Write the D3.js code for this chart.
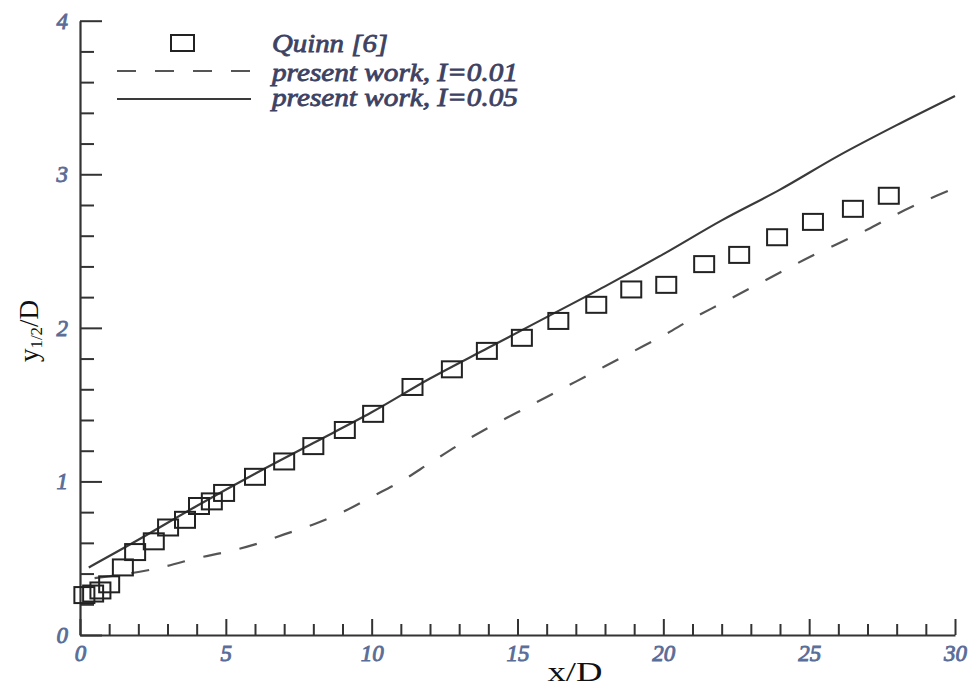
<!DOCTYPE html>
<html>
<head>
<meta charset="utf-8">
<script src="https://cdn.jsdelivr.net/npm/d3@7"></script>
<style>
  body { margin: 0; background: #fff; }
</style>
</head>
<body>
<div id="chart-area"></div>
<script>
// Quinn [6] measurements
const quinnX = [0.15, 0.45, 0.7, 1.0, 1.47, 1.89, 2.53, 3.02, 3.6, 4.08, 4.52, 4.94, 6.0, 7.0, 8.0, 9.08, 10.05, 11.4, 12.75, 13.95, 15.15, 16.4, 17.7, 18.9, 20.1, 21.4, 22.6, 23.9, 25.13, 26.5, 27.73];
const quinnY = [0.26, 0.27, 0.29, 0.33, 0.44, 0.54, 0.61, 0.70, 0.75, 0.84, 0.87, 0.925, 1.03, 1.13, 1.23, 1.335, 1.44, 1.615, 1.73, 1.85, 1.935, 2.045, 2.15, 2.25, 2.28, 2.415, 2.475, 2.59, 2.69, 2.775, 2.86];

// present work, I=0.01 (dashed)
const lowX = [0.5, 2, 3, 4, 5, 6, 7, 8, 9, 10, 11, 12, 13, 14, 15, 16, 17, 18, 19, 20, 21, 22, 23, 24, 25, 26, 27, 28, 29, 30];
const lowY = [0.37, 0.41, 0.45, 0.5, 0.54, 0.59, 0.655, 0.72, 0.8, 0.9, 1.0, 1.12, 1.24, 1.35, 1.45, 1.55, 1.65, 1.75, 1.85, 1.95, 2.06, 2.16, 2.26, 2.36, 2.46, 2.55, 2.64, 2.74, 2.83, 2.91];

// present work, I=0.05 (solid)
const highX = [0.3, 2, 4, 6, 8, 10, 12, 14, 16, 18, 20, 22, 24, 26, 28, 30];
const highY = [0.44, 0.62, 0.84, 1.05, 1.25, 1.45, 1.67, 1.87, 2.07, 2.27, 2.48, 2.7, 2.9, 3.12, 3.32, 3.51];

const xMajor = [0, 5, 10, 15, 20, 25, 30];
const xMinor = d3.range(0, 31, 1).filter(v => v % 5 !== 0);
const yMajor = [0, 1, 2, 3, 4];
const yMinor = d3.range(0, 20, 1).map(v => v / 5).filter((v, i) => i % 5 !== 0);

const legendLabels = ["Quinn [6]", "present work, I=0.01", "present work, I=0.05"];

const W = 976, H = 686;
const SERIF = "'Liberation Serif', 'Times New Roman', Times, serif";

const svg = d3.select("#chart-area").append("svg")
  .attr("width", W)
  .attr("height", H);

const xScale = d3.scaleLinear().domain([0, 30]).range([80, 955]);
const yScale = d3.scaleLinear().domain([0, 4]).range([635, 20.7]);

const axisColor = "#333";
const labelColor = "#5a6d98";

function styleAxis(g) {
  g.selectAll("line").attr("stroke", axisColor).attr("stroke-width", 2);
  g.select(".domain").attr("stroke", axisColor).attr("stroke-width", 2.2);
  g.selectAll("text")
    .attr("font-family", SERIF)
    .attr("font-style", "italic")
    .attr("font-size", 23)
    .attr("fill", labelColor)
    .attr("stroke", labelColor)
    .attr("stroke-width", 0.9);
}

// minor ticks first
svg.append("g")
  .attr("transform", "translate(0,635)")
  .call(d3.axisBottom(xScale).tickValues(xMinor).tickSizeInner(-11).tickSizeOuter(0).tickFormat(""))
  .call(g => { styleAxis(g); g.select(".domain").remove(); });

svg.append("g")
  .attr("transform", "translate(80,0)")
  .call(d3.axisLeft(yScale).tickValues(yMinor).tickSizeInner(-14).tickSizeOuter(0).tickFormat(""))
  .call(g => { styleAxis(g); g.select(".domain").remove(); });

// major ticks
svg.append("g")
  .attr("transform", "translate(0,635)")
  .call(d3.axisBottom(xScale).tickValues(xMajor).tickSizeInner(-16).tickSizeOuter(0).tickPadding(10).tickFormat(d3.format("d")))
  .call(styleAxis);

svg.append("g")
  .attr("transform", "translate(80,0)")
  .call(d3.axisLeft(yScale).tickValues(yMajor).tickSizeInner(-22).tickSizeOuter(0).tickPadding(12).tickFormat(d3.format("d")))
  .call(styleAxis);

// axis titles
svg.append("text")
  .attr("x", 575)
  .attr("y", 681)
  .attr("text-anchor", "middle")
  .attr("font-family", SERIF)
  .attr("font-size", 27)
  .attr("fill", "#111")
  .attr("textLength", 55)
  .attr("lengthAdjust", "spacingAndGlyphs")
  .text("x/D");

const yTitle = svg.append("text")
  .attr("transform", "translate(38,331) rotate(-90)")
  .attr("text-anchor", "middle")
  .attr("font-family", SERIF)
  .attr("font-size", 27)
  .attr("fill", "#111");
yTitle.append("tspan").text("y");
yTitle.append("tspan").attr("font-size", 17).attr("dy", 4).text("1/2");
yTitle.append("tspan").attr("dy", -4).text("/D");

// curves
const line = d3.line()
  .x(d => xScale(d[0]))
  .y(d => yScale(d[1]))
  .curve(d3.curveCatmullRom);

svg.append("path")
  .attr("fill", "none")
  .attr("stroke", "#555")
  .attr("stroke-width", 2.2)
  .attr("stroke-dasharray", "18,19")
  .attr("d", line(d3.zip(lowX, lowY)));

svg.append("path")
  .attr("fill", "none")
  .attr("stroke", "#3a3a3a")
  .attr("stroke-width", 2.2)
  .attr("d", line(d3.zip(highX, highY)));

// Quinn squares
const SW = 20, SH = 16;
svg.append("g").selectAll("rect")
  .data(d3.zip(quinnX, quinnY))
  .join("rect")
  .attr("x", d => xScale(d[0]) - SW / 2)
  .attr("y", d => yScale(d[1]) - SH / 2)
  .attr("width", SW)
  .attr("height", SH)
  .attr("fill", "none")
  .attr("stroke", "#222")
  .attr("stroke-width", 2);

// legend
const legend = svg.append("g");
legend.append("rect")
  .attr("x", 171).attr("y", 35)
  .attr("width", 23).attr("height", 16)
  .attr("fill", "none").attr("stroke", "#222").attr("stroke-width", 2);
legend.append("line")
  .attr("x1", 117).attr("x2", 251).attr("y1", 71).attr("y2", 71)
  .attr("stroke", "#555").attr("stroke-width", 2.2).attr("stroke-dasharray", "19,19");
legend.append("line")
  .attr("x1", 117).attr("x2", 251).attr("y1", 99).attr("y2", 99)
  .attr("stroke", "#3a3a3a").attr("stroke-width", 2.2);

const legendY = [52, 81, 106];
const legendW = [116, 246, 246];
legend.selectAll("text.lbl")
  .data(legendLabels)
  .join("text")
  .attr("class", "lbl")
  .attr("x", 272)
  .attr("y", (d, i) => legendY[i])
  .attr("font-family", SERIF)
  .attr("font-style", "italic")
  .attr("font-size", 25)
  .attr("fill", "#3d4263")
  .attr("stroke", "#3d4263")
  .attr("stroke-width", 0.8)
  .attr("textLength", (d, i) => legendW[i])
  .attr("lengthAdjust", "spacingAndGlyphs")
  .text(d => d);
</script>
</body>
</html>
